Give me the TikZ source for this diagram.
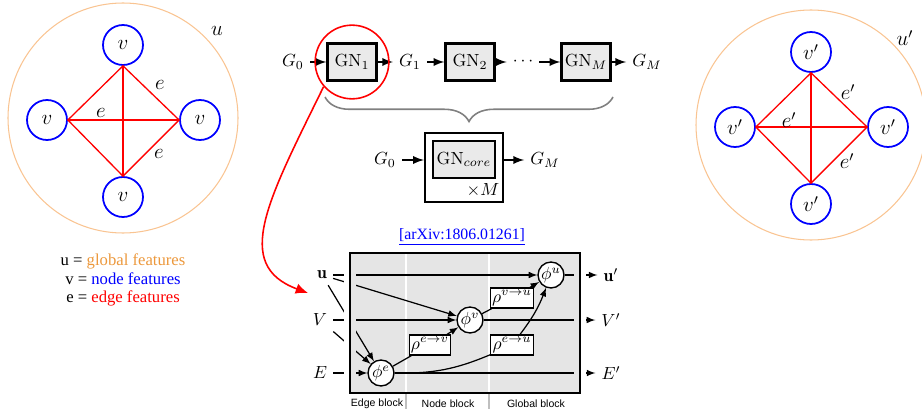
\documentclass[tikz,border=0pt]{standalone}
\usepackage{fontspec}
\newfontfamily\legendfont{Liberation Serif}
\newfontfamily\blockfont{Liberation Sans}
\usetikzlibrary{arrows.meta,decorations.pathreplacing}

\definecolor{uorange}{RGB}{249,196,146}
\definecolor{legorange}{RGB}{236,152,60}
\definecolor{boxgray}{RGB}{234,234,234}
\definecolor{blockgray}{RGB}{229,229,229}

\tikzset{
  vnode/.style={circle, draw=blue, line width=1pt, minimum size=22.8pt, inner sep=0pt, font=\large},
  edgeline/.style={red, line width=0.75pt},
  gnbox/.style={draw, line width=1.4pt, fill=boxgray, minimum width=27.9pt, minimum height=21pt, inner sep=1pt},
  rowarrow/.style={line width=1.1pt, -latex},
  phinode/.style={circle, draw, fill=white, line width=0.8pt, minimum size=14.8pt, inner sep=0pt},
  rhobox/.style={draw, fill=white, line width=0.7pt, minimum width=20.5pt, minimum height=11.4pt, inner sep=1pt},
  blockline/.style={line width=0.7pt},
  blocklabel/.style={font=\blockfont\fontsize{6}{7}\selectfont},
}

\begin{document}
\begin{tikzpicture}[x=0.57pt, y=-0.57pt]
    \useasboundingbox (0,0) rectangle (922,409);

    % Input and output graphs
    \foreach \g/\cx/\cy/\pr in {in/123/118/{}, out/811/125/{'}} {
        \draw[uorange, line width=0.6pt] (\cx,\cy) circle [radius=115];
        \node[vnode] (vt\g) at (\cx,\cy-73) {$v\pr$};
        \node[vnode] (vl\g) at (\cx-76,\cy+2) {$v\pr$};
        \node[vnode] (vr\g) at (\cx+77,\cy+2) {$v\pr$};
        \node[vnode] (vb\g) at (\cx,\cy+79) {$v\pr$};
        \draw[edgeline] (vt\g.south) -- (vl\g.east) -- (vb\g.north) -- (vr\g.west) -- cycle;
        \draw[edgeline] (vt\g.south) -- (vb\g.north) (vl\g.east) -- (vr\g.west);
        \node[font=\large] (u\g) at (\cx+94,\cy-87) {$u\pr$};
        \node[font=\large] (ea\g) at (\cx+37,\cy-33) {$e\pr$};
        \node[font=\large] (eb\g) at (\cx-22,\cy-5) {$e\pr$};
        \node[font=\large] (ec\g) at (\cx+36,\cy+36) {$e\pr$};
    }

    % Legend
    \node[font=\legendfont\fontsize{9.5}{10.5}\selectfont, align=center] (legend) at (123,280)
        {u = \textcolor{legorange}{global features}\\ v = \textcolor{blue}{node features}\\ e = \textcolor{red}{edge features}};

    % Chain of GN blocks
    \node (g0) at (293,62) {$G_0$};
    \node[gnbox] (gn1) at (352,62) {GN$_1$};
    \node (g1) at (410,62) {$G_1$};
    \node[gnbox] (gn2) at (470,62) {GN$_2$};
    \node (dots) at (523,62) {$\cdots$};
    \node[gnbox] (gnm) at (586,62) {GN$_M$};
    \node (gm) at (647,62) {$G_M$};
    \draw[rowarrow] (g0) -- (gn1);
    \draw[rowarrow] (gn1) -- (g1);
    \draw[rowarrow] (g1) -- (gn2);
    \draw[rowarrow] (gn2) -- (dots);
    \draw[rowarrow] (dots) -- (gnm);
    \draw[rowarrow] (gnm) -- (gm);

    \draw[gray, line width=0.9pt, decorate, decoration={brace, mirror, amplitude=14pt}] (325,97) -- (613,97);

    % Shared core, repeated M times
    \node[draw, line width=1.2pt, minimum width=44.5pt, minimum height=39.3pt] (core) at (464,167.5) {};
    \node[gnbox, minimum width=35.3pt] (gncore) at (464,159.5) {GN$_{core}$};
    \node (timesm) at (483,190) {$\times M$};
    \node (g0b) at (385,160) {$G_0$};
    \node (gmb) at (545,160) {$G_M$};
    \draw[rowarrow] (g0b) -- (g0b -| core.west);
    \draw[rowarrow] (core.east |- gmb) -- (gmb);

    % Zoom into GN_1
    \node[circle, draw=red, line width=0.9pt, minimum size=42pt] (zoom) at (gn1) {};
    \coordinate (redtip) at (308,293);
    \draw[red, line width=0.9pt, -{Latex[length=7pt,width=6pt]}] (zoom.221) .. controls (268,200) and (232,265) .. (redtip);

    \node[font=\legendfont\fontsize{9}{10}\selectfont, text=blue] (arxiv) at (462,237) {\underline{[arXiv:1806.01261]}};

    % Full GN block
    \node[fill=blockgray, minimum width=131.1pt, minimum height=79.8pt, inner sep=0pt] (block) at (465,323) {};
    \draw[white, line width=1.2pt] (406,254) -- (406,392) (489,254) -- (489,392);
    \draw[gray!50, line width=0.8pt] (406,394) -- (406,409) (489,394) -- (489,409);
    \node[blocklabel] (edgeblk) at (377,404) {Edge block};
    \node[blocklabel] (nodeblk) at (448,404) {Node block};
    \node[blocklabel] (globblk) at (536,404) {Global block};

    \node (uin) at (322,275) {$\mathbf{u}$};
    \node (vin) at (320,320) {$V$};
    \node (ein) at (320,373) {$E$};
    \node (uout) at (611,275) {$\mathbf{u}'$};
    \node (vout) at (611,320) {$V'$};
    \node (eout) at (611,373) {$E'$};
    \node[phinode] (phiu) at (551,275) {$\phi^u$};
    \node[phinode] (phiv) at (470,320) {$\phi^v$};
    \node[phinode] (phie) at (381,373) {$\phi^e$};
    \node[rhobox] (rhoev) at (430,345) {$\rho^{e\rightarrow v}$};
    \node[rhobox] (rhovu) at (512,298) {$\rho^{v\rightarrow u}$};
    \node[rhobox] (rhoeu) at (512,345) {$\rho^{e\rightarrow u}$};

    \draw[blockline, -latex] (uin) -- (phiu);
    \draw[blockline, -latex] (uin) -- (phiv);
    \draw[blockline, -latex] (uin) -- (phie);
    \draw[blockline, -latex] (vin) -- (phiv);
    \draw[blockline, -latex] (vin) -- (phie);
    \draw[blockline, -latex] (ein) -- (phie);
    \draw[blockline] (phie) -- (rhoev);
    \draw[blockline, -latex] (rhoev) -- (phiv);
    \draw[blockline] (phiv) -- (rhovu);
    \draw[blockline, -latex] (rhovu) -- (phiu);
    \draw[blockline] (phie) to[bend right=12] (rhoeu);
    \draw[blockline, -latex] (rhoeu) to[bend right=8] (phiu);
    \draw[blockline, -latex] (phiu) -- (uout);
    \draw[blockline, -latex] (phiv) -- (vout);
    \draw[blockline, -latex] (phie) -- (eout);

    % gaps where the lines cross the frame
    \fill[white] (344,262) rectangle (349,385);
    \fill[blockgray] (351,262) rectangle (356,385);
    \fill[blockgray] (574,262) rectangle (579,385);
    \fill[white] (581,262) rectangle (586,385);
    \draw[line width=1.2pt] (block.north west) rectangle (block.south east);
\end{tikzpicture}
\end{document}
